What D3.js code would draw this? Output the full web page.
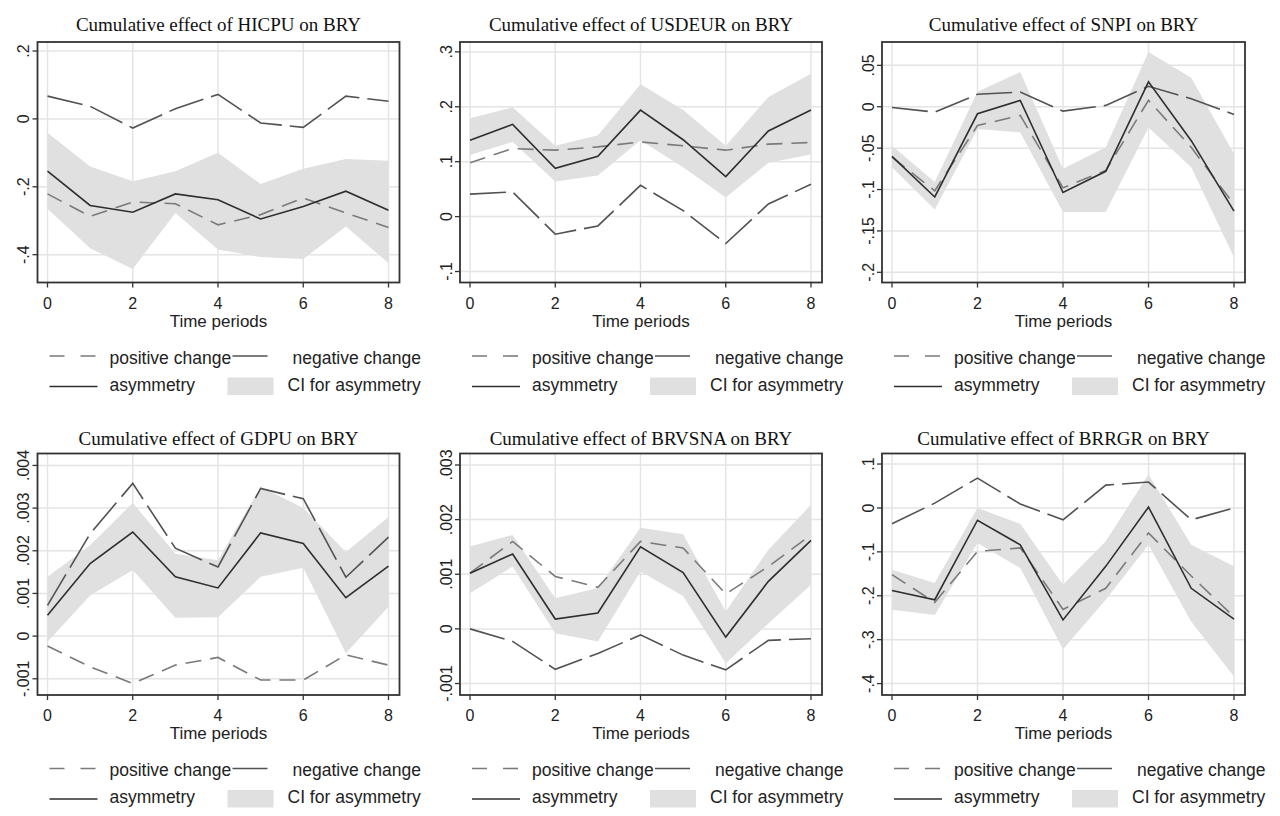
<!DOCTYPE html>
<html>
<head>
<meta charset="utf-8">
<script src="https://cdn.jsdelivr.net/npm/d3@7"></script>
<style>
  html, body { margin: 0; padding: 0; background: #ffffff; }
  svg { display: block; }
</style>
</head>
<body>
<svg id="chart" width="1280" height="816"></svg>
<script>
// ---------------- DATA ----------------
const periods = [0, 1, 2, 3, 4, 5, 6, 7, 8];
const xTicks = [0, 2, 4, 6, 8];
const xLabel = "Time periods";
const legendLabels = ["positive change", "negative change", "asymmetry", "CI for asymmetry"];

const titles = [
  "Cumulative effect of HICPU on BRY",
  "Cumulative effect of USDEUR on BRY",
  "Cumulative effect of SNPI on BRY",
  "Cumulative effect of GDPU on BRY",
  "Cumulative effect of BRVSNA on BRY",
  "Cumulative effect of BRRGR on BRY"
];

// HICPU
const posHICPU = [-0.221, -0.287, -0.245, -0.250, -0.312, -0.282, -0.233, -0.277, -0.320];
const negHICPU = [0.067, 0.037, -0.027, 0.030, 0.072, -0.012, -0.025, 0.067, 0.052];
const asyHICPU = [-0.154, -0.255, -0.275, -0.221, -0.238, -0.295, -0.258, -0.213, -0.269];
const ciUHICPU = [-0.041, -0.140, -0.184, -0.154, -0.100, -0.192, -0.147, -0.118, -0.123];
const ciLHICPU = [-0.265, -0.381, -0.442, -0.277, -0.385, -0.407, -0.413, -0.317, -0.425];

// USDEUR
const posUSDEUR = [0.098, 0.124, 0.121, 0.127, 0.136, 0.129, 0.121, 0.132, 0.135];
const negUSDEUR = [0.041, 0.045, -0.032, -0.017, 0.057, 0.011, -0.049, 0.023, 0.059];
const asyUSDEUR = [0.139, 0.168, 0.088, 0.110, 0.194, 0.140, 0.073, 0.156, 0.194];
const ciUUSDEUR = [0.179, 0.199, 0.129, 0.148, 0.241, 0.194, 0.129, 0.218, 0.260];
const ciLUSDEUR = [0.112, 0.136, 0.064, 0.075, 0.139, 0.090, 0.035, 0.098, 0.113];

// SNPI
const posSNPI = [-0.061, -0.1015, -0.0227, -0.0105, -0.098, -0.077, 0.0077, -0.049, -0.118];
const negSNPI = [-0.001, -0.0065, 0.015, 0.0178, -0.0053, 0.0016, 0.0247, 0.0097, -0.0093];
const asySNPI = [-0.060, -0.109, -0.0085, 0.0077, -0.1036, -0.078, 0.030, -0.041, -0.126];
const ciUSNPI = [-0.047, -0.091, 0.018, 0.042, -0.075, -0.049, 0.066, 0.035, -0.057];
const ciLSNPI = [-0.073, -0.124, -0.027, -0.031, -0.127, -0.127, -0.025, -0.073, -0.182];

// GDPU
const posGDPU = [-0.00023, -0.00072, -0.00111, -0.00068, -0.00050, -0.00103, -0.00103, -0.00044, -0.00068];
const negGDPU = [0.00072, 0.00240, 0.00358, 0.00206, 0.00162, 0.00346, 0.00322, 0.00138, 0.00232];
const asyGDPU = [0.00049, 0.00170, 0.00244, 0.00139, 0.00113, 0.00242, 0.00217, 0.00090, 0.00164];
const ciUGDPU = [0.00139, 0.00213, 0.00312, 0.00193, 0.00178, 0.00350, 0.00300, 0.00197, 0.00279];
const ciLGDPU = [-0.00013, 0.00095, 0.00155, 0.00043, 0.00044, 0.00139, 0.00160, -0.00040, 0.00069];

// BRVSNA
const posBRVSNA = [0.00102, 0.00160, 0.00096, 0.00076, 0.00160, 0.00148, 0.00064, 0.00114, 0.00172];
const negBRVSNA = [0.00000, -0.00023, -0.00074, -0.00045, -0.00011, -0.00048, -0.00075, -0.00021, -0.00018];
const asyBRVSNA = [0.00102, 0.00137, 0.00018, 0.00029, 0.00150, 0.00103, -0.00015, 0.00087, 0.00162];
const ciUBRVSNA = [0.00151, 0.00172, 0.00056, 0.00075, 0.00185, 0.00173, 0.00032, 0.00145, 0.00227];
const ciLBRVSNA = [0.00065, 0.00114, -0.00008, -0.00023, 0.00105, 0.00060, -0.00063, 0.00010, 0.00081];

// BRRGR
const posBRRGR = [-0.152, -0.215, -0.099, -0.091, -0.231, -0.183, -0.057, -0.155, -0.248];
const negBRRGR = [-0.036, 0.011, 0.068, 0.009, -0.027, 0.052, 0.059, -0.027, 0.000];
const asyBRRGR = [-0.188, -0.209, -0.028, -0.084, -0.255, -0.133, 0.002, -0.183, -0.253];
const ciUBRRGR = [-0.141, -0.171, 0.000, -0.036, -0.175, -0.076, 0.076, -0.084, -0.133];
const ciLBRRGR = [-0.232, -0.244, -0.080, -0.137, -0.322, -0.209, -0.084, -0.259, -0.384];

// y tick values and labels
const yTicks = [
  [-0.4, -0.2, 0, 0.2],
  [-0.1, 0, 0.1, 0.2, 0.3],
  [-0.2, -0.15, -0.1, -0.05, 0, 0.05],
  [-0.001, 0, 0.001, 0.002, 0.003, 0.004],
  [-0.001, 0, 0.001, 0.002, 0.003],
  [-0.4, -0.3, -0.2, -0.1, 0, 0.1]
];
const yTickLabels = [
  ["-.4", "-.2", "0", ".2"],
  ["-.1", "0", ".1", ".2", ".3"],
  ["-.2", "-.15", "-.1", "-.05", "0", ".05"],
  ["-.001", "0", ".001", ".002", ".003", ".004"],
  ["-.001", "0", ".001", ".002", ".003"],
  ["-.4", "-.3", "-.2", "-.1", "0", ".1"]
];
// axis extents (value at bottom, value at top)
const yExtents = [
  [-0.482, 0.2265],
  [-0.120, 0.318],
  [-0.2123, 0.0782],
  [-0.00138, 0.00428],
  [-0.00121, 0.00321],
  [-0.426, 0.124]
];

const series = [
  { pos: posHICPU,  neg: negHICPU,  asy: asyHICPU,  ciU: ciUHICPU,  ciL: ciLHICPU },
  { pos: posUSDEUR, neg: negUSDEUR, asy: asyUSDEUR, ciU: ciUUSDEUR, ciL: ciLUSDEUR },
  { pos: posSNPI,   neg: negSNPI,   asy: asySNPI,   ciU: ciUSNPI,   ciL: ciLSNPI },
  { pos: posGDPU,   neg: negGDPU,   asy: asyGDPU,   ciU: ciUGDPU,   ciL: ciLGDPU },
  { pos: posBRVSNA, neg: negBRVSNA, asy: asyBRVSNA, ciU: ciUBRVSNA, ciL: ciLBRVSNA },
  { pos: posBRRGR,  neg: negBRRGR,  asy: asyBRRGR,  ciU: ciUBRRGR,  ciL: ciLBRRGR }
];

// ---------------- LAYOUT ----------------
const cols = [[37.5, 399.5], [460, 822], [882, 1245]];
const rows = [
  { top: 42, bottom: 282.5, titleY: 31 },
  { top: 453.5, bottom: 695, titleY: 445 }
];
const SANS = "'Liberation Sans', Arial, sans-serif";
const SERIF = "'Liberation Serif', 'Times New Roman', serif";
const C = {
  grid: "#e4e4e4", frame: "#333333", ci: "#e0e0e0",
  pos: "#7a7a7a", neg: "#525252", asy: "#2e2e2e", text: "#222222"
};

const svg = d3.select("#chart");

series.forEach((s, i) => {
  const col = cols[i % 3], row = rows[Math.floor(i / 3)];
  const L = col[0], R = col[1], T = row.top, B = row.bottom;
  const x = d3.scaleLinear().domain([0, 8]).range([L + 10, R - 11]);
  const y = d3.scaleLinear().domain(yExtents[i]).range([B, T]);
  const g = svg.append("g");

  // grid
  g.selectAll(".hg").data(yTicks[i]).join("line")
    .attr("x1", L).attr("x2", R).attr("y1", d => y(d)).attr("y2", d => y(d))
    .attr("stroke", C.grid).attr("stroke-width", 1.5);
  g.selectAll(".vg").data(xTicks).join("line")
    .attr("x1", d => x(d)).attr("x2", d => x(d)).attr("y1", T).attr("y2", B)
    .attr("stroke", C.grid).attr("stroke-width", 1.5);

  const pts = periods.map((t, k) => ({ t, pos: s.pos[k], neg: s.neg[k], asy: s.asy[k], u: s.ciU[k], l: s.ciL[k] }));

  // CI band
  g.append("path").datum(pts)
    .attr("d", d3.area().x(d => x(d.t)).y0(d => y(d.l)).y1(d => y(d.u)))
    .attr("fill", C.ci).attr("stroke", "none");

  const line = key => d3.line().x(d => x(d.t)).y(d => y(d[key]));
  g.append("path").datum(pts).attr("d", line("neg"))
    .attr("fill", "none").attr("stroke", C.neg).attr("stroke-width", 1.6)
    .attr("stroke-dasharray", "36,8");
  g.append("path").datum(pts).attr("d", line("pos"))
    .attr("fill", "none").attr("stroke", C.pos).attr("stroke-width", 1.6)
    .attr("stroke-dasharray", "16,9");
  g.append("path").datum(pts).attr("d", line("asy"))
    .attr("fill", "none").attr("stroke", C.asy).attr("stroke-width", 1.6);

  // frame
  g.append("rect").attr("x", L).attr("y", T).attr("width", R - L).attr("height", B - T)
    .attr("fill", "none").attr("stroke", C.frame).attr("stroke-width", 1.8);

  // y ticks
  g.selectAll(".yt").data(yTicks[i]).join("line")
    .attr("x1", L - 5).attr("x2", L).attr("y1", d => y(d)).attr("y2", d => y(d))
    .attr("stroke", C.frame).attr("stroke-width", 1.3);
  g.selectAll(".yl").data(yTicks[i]).join("text")
    .attr("transform", d => `translate(${L - 8.5},${y(d)}) rotate(-90)`)
    .attr("text-anchor", "middle")
    .attr("font-family", SANS).attr("font-size", 16).attr("fill", C.text)
    .text((d, k) => yTickLabels[i][k]);

  // x ticks
  g.selectAll(".xt").data(xTicks).join("line")
    .attr("x1", d => x(d)).attr("x2", d => x(d)).attr("y1", B).attr("y2", B + 5)
    .attr("stroke", C.frame).attr("stroke-width", 1.3);
  g.selectAll(".xl").data(xTicks).join("text")
    .attr("x", d => x(d)).attr("y", B + 26)
    .attr("text-anchor", "middle")
    .attr("font-family", SANS).attr("font-size", 16).attr("fill", C.text)
    .text(d => d);

  g.append("text").attr("x", (L + R) / 2).attr("y", B + 44)
    .attr("text-anchor", "middle").attr("font-family", SANS).attr("font-size", 17).attr("fill", C.text)
    .text(xLabel);

  // title
  g.append("text").attr("x", (L + R) / 2).attr("y", row.titleY)
    .attr("text-anchor", "middle").attr("font-family", SERIF).attr("font-size", 19).attr("fill", "#111")
    .text(titles[i]);

  // legend
  const x0 = x(0);
  const r1 = B + 81, r2 = B + 108;
  const lg = g.append("g").attr("font-family", SANS).attr("font-size", 17.5).attr("fill", C.text);
  lg.append("line").attr("x1", x0 + 2).attr("x2", x0 + 50).attr("y1", r1 - 7.5).attr("y2", r1 - 7.5)
    .attr("stroke", C.pos).attr("stroke-width", 1.6).attr("stroke-dasharray", "15,16");
  lg.append("text").attr("x", x0 + 62).attr("y", r1).text(legendLabels[0]);
  lg.append("line").attr("x1", x0 + 185).attr("x2", x0 + 220).attr("y1", r1 - 7.5).attr("y2", r1 - 7.5)
    .attr("stroke", C.neg).attr("stroke-width", 1.6);
  lg.append("text").attr("x", x0 + 245).attr("y", r1).text(legendLabels[1]);
  lg.append("line").attr("x1", x0 + 2).attr("x2", x0 + 50).attr("y1", r2 - 4).attr("y2", r2 - 4)
    .attr("stroke", C.asy).attr("stroke-width", 1.6);
  lg.append("text").attr("x", x0 + 62).attr("y", r2).text(legendLabels[2]);
  lg.append("rect").attr("x", x0 + 180).attr("y", r2 - 13).attr("width", 46).attr("height", 17.5)
    .attr("fill", C.ci);
  lg.append("text").attr("x", x0 + 240).attr("y", r2).text(legendLabels[3]);
});
</script>
</body>
</html>
